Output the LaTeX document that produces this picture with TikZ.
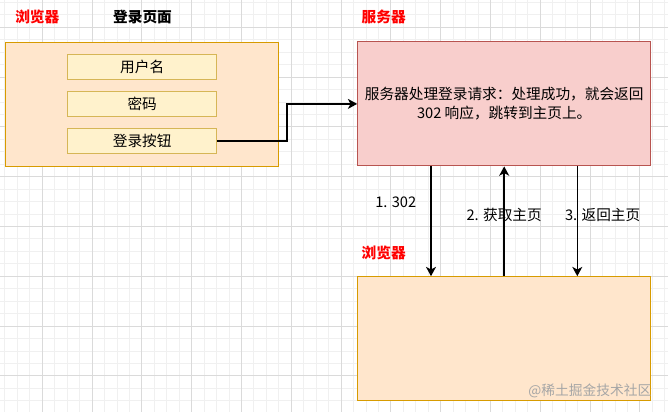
\documentclass[tikz,border=0pt]{standalone}
\usepackage{fontspec}
\setmainfont{Noto Sans CJK SC}
\usetikzlibrary{positioning,arrows.meta}
\definecolor{pagefill}{HTML}{FFE6CC}
\definecolor{pageedge}{HTML}{D79B00}
\definecolor{fieldfill}{HTML}{FFF2CC}
\definecolor{fieldedge}{HTML}{D6B656}
\definecolor{srvfill}{HTML}{F8CECC}
\definecolor{srvedge}{HTML}{B85450}
\definecolor{gridmajor}{HTML}{DADADA}
\definecolor{gridminor}{HTML}{F0F0F0}
\definecolor{markgray}{HTML}{A6A6A6}
\tikzset{every picture/.style={line width=0.75pt}}
\tikzset{
  pagebox/.style={draw=pageedge, fill=pagefill, minimum width=204.75pt, minimum height=93pt},
  srvbox/.style={draw=srvedge, fill=srvfill, minimum width=219.75pt, minimum height=93pt},
  bottombox/.style={draw=pageedge, fill=pagefill, minimum width=219.75pt, minimum height=93pt},
  field/.style={draw=fieldedge, fill=fieldfill, minimum width=111.75pt, minimum height=18.75pt},
  redtag/.style={text=red, font=\fontsize{11}{14.5}\selectfont\bfseries},
  link/.style={->, line width=1.1pt},
}

\begin{document}
\begin{tikzpicture}[x=0.75pt, y=-0.75pt, >={Stealth[length=7pt, width=7.5pt, inset=2pt]}, every node/.style={font=\fontsize{11}{14.5}\selectfont, inner sep=0pt}]
        \fill[white] (0,0) rectangle (668,412);
        \useasboundingbox (0,0) rectangle (668,412);
        % grid of the canvas
        \foreach \gx in {4.95,17.4,...,668} \draw[gridminor] (\gx,0) -- (\gx,412);
        \foreach \gy in {2.4,14.85,...,412} \draw[gridminor] (0,\gy) -- (668,\gy);
        \foreach \gx in {42.3,92.1,...,668} \draw[gridmajor] (\gx,0) -- (\gx,412);
        \foreach \gy in {27.3,77.1,...,412} \draw[gridmajor] (0,\gy) -- (668,\gy);

        % login page
        \node[pagebox] (page) at (142.2, 104) {};
        \node[field] (user) at (142.2, 66.8)  {用户名};
        \node[field] (pwd)  at (142.2, 104.2) {密码};
        \node[field] (btn)  at (142.2, 141)   {登录按钮};
        \node[redtag] (tag1) at (37.3, 17) {浏览器};
        \node[font=\fontsize{11}{14.5}\selectfont\bfseries] (title) at (142.5, 17) {登录页面};

        % server and browser
        \node[srvbox, align=center] (srv) at (504.2, 103.9) {服务器处理登录请求：处理成功，就会返回\\302 响应，跳转到主页上。};
        \node[bottombox] (bot) at (504.2, 338.7) {};
        \node[redtag] (tag2) at (383.7, 16.5)  {服务器};
        \node[redtag] (tag3) at (383.7, 253.3) {浏览器};

        \coordinate (c1) at (431, 0);
        \coordinate (c2) at (504.2, 0);
        \coordinate (c3) at (577.3, 0);

        \draw[link] (btn.east) -- ++(70,0) |- (srv.west);
        \draw[link] (srv.south -| c1) -- node[pos=0.326, left=10.5pt] {1. 302} (bot.north -| c1);
        \draw[link] (bot.north -| c2) -- node[pos=0.557] {2. 获取主页} (srv.south -| c2);
        \draw[link] (srv.south -| c3) -- node[pos=0.443, right=-9.75pt] {3. 返回主页} (bot.north -| c3);

        \node[text=markgray, font=\fontsize{10.3}{12}\selectfont] (mark) at (589.9, 391) {@稀土掘金技术社区};
    \end{tikzpicture}
\end{document}
